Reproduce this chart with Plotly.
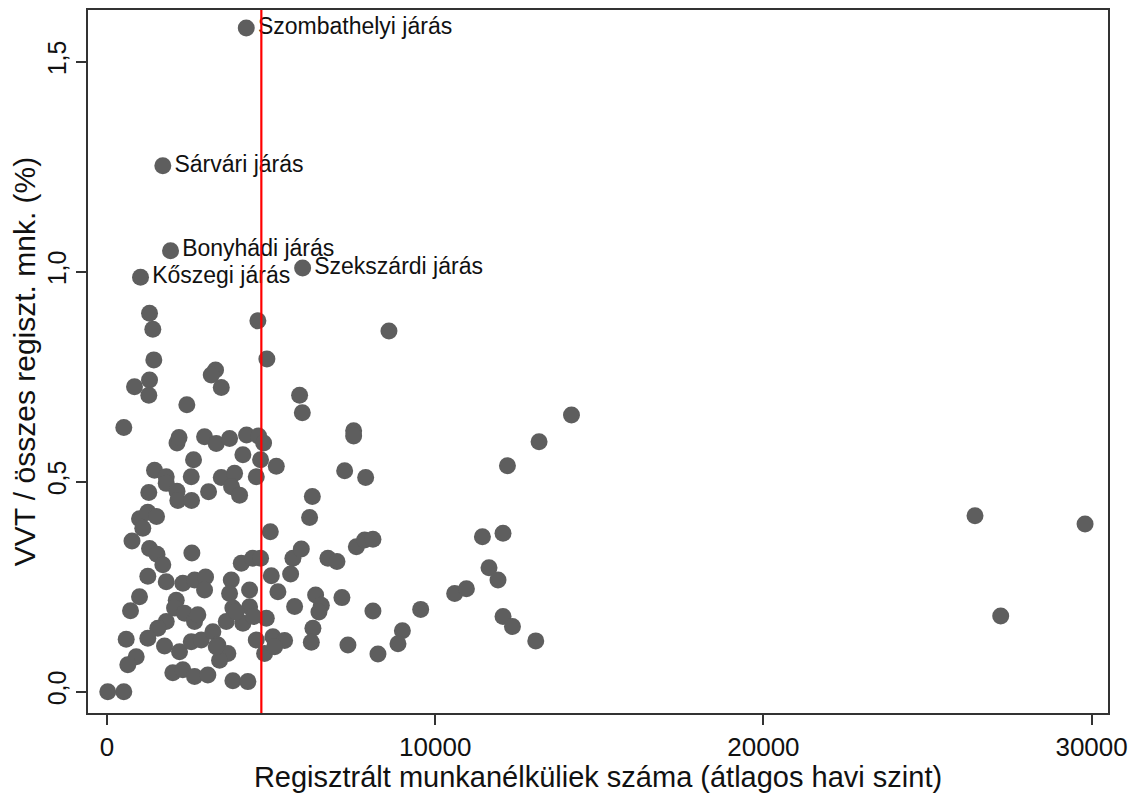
import plotly.graph_objects as go

# Labeled districts
lab_names = ["Szombathelyi járás", "Sárvári járás", "Bonyhádi járás", "Kőszegi járás", "Szekszárdi járás"]
lab_x = [4241, 1698, 1933, 1018, 5958]
lab_y = [1.580, 1.252, 1.050, 0.987, 1.009]

# Other districts: registered unemployed (monthly avg) and VVT share (%)
unemp = [1293, 1393, 1424, 4595, 4869, 3305, 3174, 3479, 1293, 835, 1271, 2430, 509, 5866, 5949,
         8589, 14151, 13163, 12199, 7513, 7513, 7239, 7879, 6254, 6171, 4973,
         2131, 2192, 2970, 3326, 3732, 4250, 4616, 4769,
         4138, 2634, 4677, 5156, 4546, 1445, 1802, 2564, 3479, 3884, 3793, 1802,
         1271, 2131, 2156, 2573, 3092, 4037,
         988, 1241, 1506, 1088, 759,
         1293, 1521, 2583, 1698, 4089, 4433, 4677, 5003, 5662, 5918, 5592, 6729, 7004, 7595, 7848, 8101, 11437, 12065,
         1241, 1802, 2308, 2665, 3000, 2970, 988, 713, 2107, 2055, 2360, 2665, 2765, 1802, 1546,
         3784, 3732, 4342, 4342, 3833, 4138, 3631, 4851, 5205, 5714, 6354, 6528, 6455, 7156, 8101, 9556,
         10592, 10949, 11638, 11912, 12065, 12352, 13062, 26447, 29801, 27231,
         582, 1241, 1750, 2207, 2564, 2869, 887, 631, 2003, 2308, 2665, 3070, 3833, 4290, 20, 509,
         3223, 3375, 3680, 3427, 4546, 4799, 5052, 5409, 6272, 6223, 7339, 8254, 8998, 8864, 5104,
         4464, 3326, 3936]
vvt = [0.901, 0.863, 0.790, 0.883, 0.792, 0.766, 0.754, 0.724, 0.742, 0.726, 0.706, 0.683, 0.629, 0.706, 0.664,
       0.859, 0.659, 0.595, 0.538, 0.621, 0.609, 0.526, 0.510, 0.465, 0.415, 0.381,
       0.592, 0.605, 0.607, 0.591, 0.603, 0.611, 0.609, 0.592,
       0.564, 0.552, 0.552, 0.537, 0.512, 0.527, 0.512, 0.512, 0.510, 0.520, 0.488, 0.496,
       0.474, 0.477, 0.455, 0.455, 0.476, 0.468,
       0.412, 0.427, 0.417, 0.389, 0.359,
       0.341, 0.327, 0.330, 0.302, 0.306, 0.318, 0.318, 0.276, 0.318, 0.340, 0.280, 0.318, 0.310, 0.345, 0.361, 0.363, 0.369, 0.377,
       0.275, 0.262, 0.258, 0.266, 0.273, 0.242, 0.226, 0.193, 0.218, 0.199, 0.187, 0.167, 0.183, 0.167, 0.151,
       0.266, 0.234, 0.242, 0.202, 0.199, 0.163, 0.167, 0.175, 0.238, 0.203, 0.230, 0.206, 0.190, 0.224, 0.192, 0.196,
       0.234, 0.245, 0.295, 0.266, 0.179, 0.155, 0.121, 0.419, 0.399, 0.180,
       0.125, 0.127, 0.109, 0.095, 0.119, 0.123, 0.083, 0.064, 0.045, 0.052, 0.036, 0.040, 0.026, 0.024, 0.0, 0.0,
       0.143, 0.111, 0.091, 0.075, 0.123, 0.091, 0.131, 0.122, 0.151, 0.118, 0.111, 0.090, 0.145, 0.114, 0.107,
       0.179, 0.107, 0.190]

mean_unemp = 4700

x_ticks = [0, 10000, 20000, 30000]
x_tick_text = ["0", "10000", "20000", "30000"]
y_ticks = [0.0, 0.5, 1.0, 1.5]
y_tick_text = ["0,0", "0,5", "1,0", "1,5"]

x_title = "Regisztrált munkanélküliek száma (átlagos havi szint)"
y_title = "VVT / összes regiszt. mnk. (%)"

mcolor = "#5e5e5e"
font_family = "Liberation Sans, Arial, sans-serif"

fig = go.Figure()
fig.add_trace(go.Scatter(
    x=unemp, y=vvt, mode="markers",
    marker=dict(size=17, color=mcolor, line=dict(width=0)),
    showlegend=False, hoverinfo="skip"))
fig.add_trace(go.Scatter(
    x=lab_x, y=lab_y, mode="markers+text", text=lab_names,
    textposition="middle right",
    textfont=dict(size=23, color="#111111", family=font_family),
    marker=dict(size=17, color=mcolor, line=dict(width=0)),
    showlegend=False, hoverinfo="skip"))

fig.add_shape(type="line", x0=mean_unemp, x1=mean_unemp, y0=0, y1=1,
              xref="x", yref="paper", line=dict(color="#ff0000", width=2.2), layer="above")

# The page body adds an 8px offset, so the figure is sized to fill the rest of the window.
fig.update_layout(
    width=1131, height=785,
    margin=dict(l=80, r=31, t=2, b=80, pad=0),
    paper_bgcolor="white", plot_bgcolor="white",
    font=dict(family=font_family, color="#111111"),
    xaxis=dict(range=[-582, 30500], tickmode="array", tickvals=x_ticks, ticktext=x_tick_text,
               ticks="outside", ticklen=10, tickwidth=1.5, tickcolor="#333333",
               tickfont=dict(size=26), automargin=False,
               showline=True, linecolor="#333333", linewidth=2, mirror=True,
               showgrid=False, zeroline=False,
               title=dict(text=x_title, font=dict(size=29), standoff=0)),
    yaxis=dict(range=[-0.0507, 1.623], tickmode="array", tickvals=y_ticks, ticktext=y_tick_text,
               ticks="outside", ticklen=10, tickwidth=1.5, tickcolor="#333333",
               tickfont=dict(size=25), tickangle=-90, automargin=False,
               showline=True, linecolor="#333333", linewidth=2, mirror=True,
               showgrid=False, zeroline=False,
               title=dict(text=y_title, font=dict(size=30), standoff=0)),
)

fig.write_html("out.html")
